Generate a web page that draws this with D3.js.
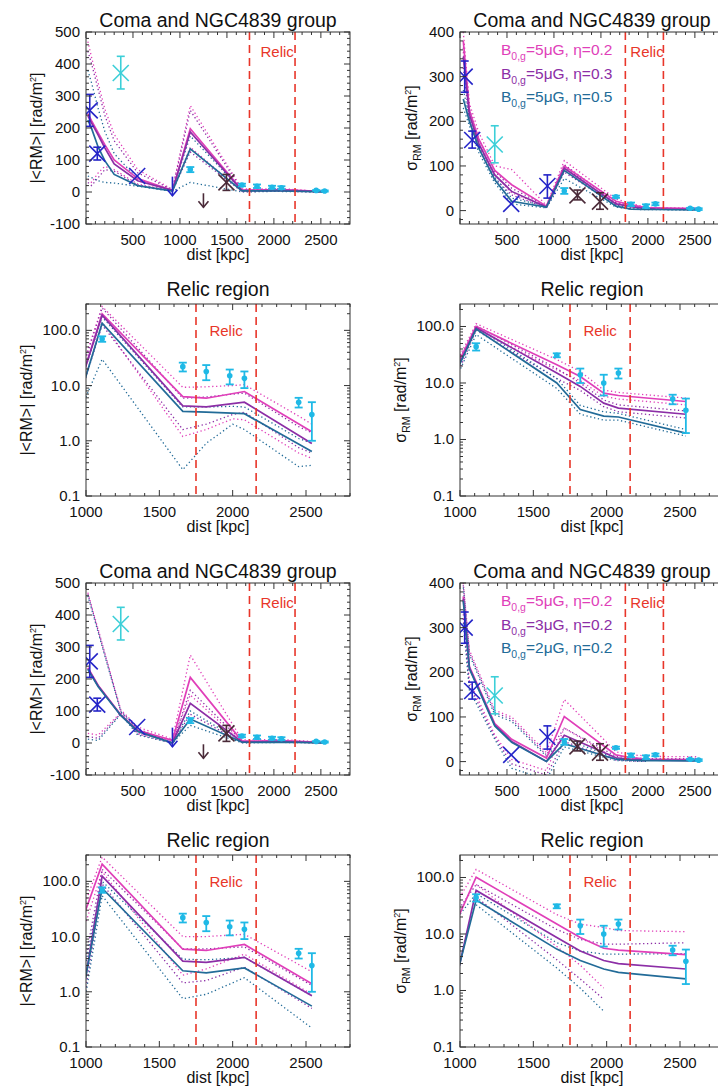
<!DOCTYPE html>
<html>
<head>
<meta charset="utf-8">
<script src="https://cdn.jsdelivr.net/npm/d3@7"></script>
<style>
  body { margin: 0; background: #fff; }
  svg { display: block; font-family: "Liberation Sans", Arial, Helvetica, sans-serif; }
</style>
</head>
<body>
<script>
// ---------- model curves: |<RM>|, eta series ----------
var rmEtaX    = [20, 60, 130, 200, 300, 550, 920, 1110, 1660, 1820, 2080, 2540];
var rmEta02   = [245, 222, 185, 148, 100, 42, 5, 198, 6.3, 5.9, 7.8, 1.46];
var rmEta03   = [238, 215, 178, 138, 88, 35, 5, 188, 4.3, 4.1, 5.0, 0.89];
var rmEta05   = [225, 198, 140, 98, 55, 20, 3, 135, 3.4, 3.3, 3.1, 0.64];
var rmEtaDotX = [20, 60, 130, 200, 300, 550, 920, 1110, 1660, 1820, 2000, 2080, 2450, 2540];
var rmEta02Hi = [470, 420, 340, 260, 180, 70, 8, 270, 9.3, 9.5, 10, 10.4, 2.8, 2.0];
var rmEta02Lo = [40, 30, 60, 80, 70, 25, 3, 140, 1.2, 1.6, 2.5, 2.4, 0.6, 0.48];
var rmEta03Hi = [440, 400, 320, 240, 160, 60, 7, 255, 5.9, 6.2, 7, 7.3, 1.8, 1.4];
var rmEta03Lo = [30, 20, 45, 70, 65, 22, 3, 125, 1.6, 2.0, 3.0, 3.3, 0.75, 0.6];
var rmEta05Hi = [380, 340, 260, 190, 120, 40, 5, 175, 4.1, 4.1, 4.2, 4.1, 1.1, 0.9];
var rmEta05Lo = [50, 45, 35, 30, 28, 18, 2, 30, 0.3, 0.9, 2.0, 1.6, 0.34, 0.36];

// ---------- model curves: sigma_RM, eta series ----------
var sgEtaX    = [35, 100, 200, 370, 550, 920, 1110, 1660, 1820, 1980, 2080, 2540];
var sgEta02   = [380, 225, 160, 90, 58, 10, 100, 21, 13, 6.6, 6.0, 4.7];
var sgEta03   = [345, 215, 150, 80, 43, 8, 95, 15, 8.7, 4.4, 3.6, 2.8];
var sgEta05   = [250, 200, 140, 69, 21, 8, 90, 10, 3.4, 2.6, 2.5, 1.3];
var sgEta02Hi = [400, 240, 175, 100, 92, 12, 112, 26, 16, 7.5, 6.8, 5.4];
var sgEta02Lo = [355, 205, 145, 80, 40, 8, 90, 17, 11, 5.8, 5.2, 4.1];
var sgEta03Hi = [365, 228, 160, 88, 50, 10, 103, 18, 10, 5.0, 4.1, 3.2];
var sgEta03Lo = [320, 200, 140, 72, 35, 6, 86, 12, 7.4, 3.8, 3.1, 2.4];
var sgEta05Hi = [270, 210, 150, 75, 28, 10, 98, 12, 4.0, 3.1, 2.9, 1.5];
var sgEta05Lo = [230, 190, 130, 62, 15, 6, 72, 8, 2.8, 2.2, 2.2, 1.15];

// ---------- model curves: |<RM>|, B0 series ----------
var rmBX   = [20, 130, 370, 550, 920, 1110, 1660, 1820, 2080, 2540];
var rmB5   = [235, 180, 88, 40, 8, 205, 5.9, 5.6, 7.2, 1.4];
var rmB3   = [232, 178, 87, 38, 0.1, 124, 3.6, 3.4, 4.2, 0.85];
var rmB2   = [230, 176, 86, 36, 0.14, 75, 2.4, 2.2, 2.7, 0.55];
var rmB5Hi = [470, 355, 104, 50, 12, 275, 10, 10, 11, 2.3];
var rmB5Lo = [30, 25, 95, 30, 4, 150, 2.0, 2.6, 4.8, 0.9];
var rmB3Hi = [465, 350, 100, 45, 0.3, 165, 6.0, 6.0, 6.5, 1.3];
var rmB3Lo = [20, 15, 92, 28, 0.05, 90, 1.45, 1.6, 2.8, 0.5];
var rmB2Hi = [460, 345, 98, 42, 0.3, 100, 3.9, 3.8, 4.2, 0.85];
var rmB2Lo = [12, 8, 90, 25, 0.05, 55, 0.75, 0.9, 1.8, 0.22];

// ---------- model curves: sigma_RM, B0 series ----------
var sgBX   = [35, 100, 370, 550, 920, 1110, 1660, 1820, 1980, 2080, 2540];
var sgB5   = [370, 213, 85, 50, 7.9, 101, 15, 8.7, 5.6, 5.2, 4.3];
var sgB3   = [365, 210, 82, 45, 0.36, 59, 8.7, 5.0, 3.4, 3.0, 2.4];
var sgB2   = [360, 208, 80, 43, 0.48, 40, 5.4, 3.4, 2.4, 2.1, 1.6];
var sgB5Hi = [400, 250, 115, 100, 20, 139, 22, 15, 13, 11.5, 11];
var sgB5Lo = [330, 180, 60, 5, -20, 75, 6, 2.8, 1.1, null, null];
var sgB3Hi = [395, 245, 110, 95, 15, 75, 12, 8, 6.6, 6.6, 7];
var sgB3Lo = [320, 170, 55, -5, -30, 45, 3.5, 1.6, 0.7, null, null];
var sgB2Hi = [390, 240, 105, 90, 12, 52, 7, 5, 4.4, 4.4, 4.5];
var sgB2Lo = [310, 160, 50, -15, -40, 33, 2.5, 1.1, 0.43, null, null];

// ---------- observations ----------
var dotX      = [1110, 1660, 1820, 1980, 2080, 2450, 2540];
var rmDot     = [70, 22, 18, 15, 13.5, 5, 3];
var rmDotErr  = [8, 4, 5.5, 4.5, 4.5, 1, 2];
var sgDot     = [44, 31, 14, 10, 15, 5.2, 3.3];
var sgDotErr  = [6.5, 2.5, 4, 4, 3, 1, 2];

var rmBlueX   = [40, 120, 545];
var rmBlueVal = [255, 120, 50];
var rmBlueLo  = [205, 100, null];
var rmBlueHi  = [305, 140, null];
var rmCyanX   = [370], rmCyanVal = [372], rmCyanLo = [322], rmCyanHi = [424];
var rmDarkX   = [1495], rmDarkVal = [30], rmDarkLo = [5], rmDarkHi = [55];
var rmLimitX  = [920, 1250];            // upper limits (arrows)
var rmLimitTop = [48, -4];
var rmLimitBot = [-12, -48];

var sgBlueX   = [50, 130, 545, 930];
var sgBlueVal = [300, 158, 15, 55];
var sgBlueLo  = [265, 140, null, 28];
var sgBlueHi  = [335, 178, null, 80];
var sgCyanX   = [370], sgCyanVal = [148], sgCyanLo = [107], sgCyanHi = [190];
var sgDarkX   = [1250, 1490], sgDarkVal = [34, 20], sgDarkLo = [24, 3], sgDarkHi = [46, 40];

// ---------- axes ----------
var xTicksFull  = [500, 1000, 1500, 2000, 2500];
var xTicksRelic = [1000, 1500, 2000, 2500];
var yTicksRm    = [-100, 0, 100, 200, 300, 400, 500];
var yTicksSg    = [0, 100, 200, 300, 400];
var yTicksLog   = [0.1, 1, 10, 100];
var legendEta   = ["=5\u03bcG, \u03b7=0.2", "=5\u03bcG, \u03b7=0.3", "=5\u03bcG, \u03b7=0.5"];
var legendB     = ["=5\u03bcG, \u03b7=0.2", "=3\u03bcG, \u03b7=0.2", "=2\u03bcG, \u03b7=0.2"];

// colours
var cMag = "#e03fb9", cPur = "#8c2ea6", cTeal = "#226b98";
var cBlue = "#2424c8", cCyanX = "#3ccfd8", cCyan = "#1fb9e6", cDark = "#4a2a38", cRed = "#e8362a";

var W = 718, H = 1091, PW = 264, PH = 192;
var colLeft = [86, 460];
var rowTop = [32, 304, 583, 855];

var svg = d3.select("body").append("svg").attr("width", W).attr("height", H);

function models(xs, xd, s, hi, lo) {
    var cols = [cMag, cPur, cTeal], out = [];
    for (var i = 0; i < 3; i++) {
        out.push({x: xd, y: hi[i], color: cols[i], dotted: true});
        out.push({x: xd, y: lo[i], color: cols[i], dotted: true});
    }
    for (var j = 0; j < 3; j++) out.push({x: xs, y: s[j], color: cols[j], dotted: false});
    return out;
}

var etaRm = models(rmEtaX, rmEtaDotX, [rmEta02, rmEta03, rmEta05], [rmEta02Hi, rmEta03Hi, rmEta05Hi], [rmEta02Lo, rmEta03Lo, rmEta05Lo]);
var etaSg = models(sgEtaX, sgEtaX, [sgEta02, sgEta03, sgEta05], [sgEta02Hi, sgEta03Hi, sgEta05Hi], [sgEta02Lo, sgEta03Lo, sgEta05Lo]);
var bRm = models(rmBX, rmBX, [rmB5, rmB3, rmB2], [rmB5Hi, rmB3Hi, rmB2Hi], [rmB5Lo, rmB3Lo, rmB2Lo]);
var bSg = models(sgBX, sgBX, [sgB5, sgB3, sgB2], [sgB5Hi, sgB3Hi, sgB2Hi], [sgB5Lo, sgB3Lo, sgB2Lo]);

var panels = [
  {id: 1, col: 0, row: 0, q: "rm", log: false, models: etaRm, relic: [1740, 2225]},
  {id: 2, col: 1, row: 0, q: "sg", log: false, models: etaSg, relic: [1760, 2165], legend: legendEta},
  {id: 3, col: 0, row: 1, q: "rm", log: true, models: etaRm, relic: [1750, 2160], yDomain: [0.1, 300]},
  {id: 4, col: 1, row: 1, q: "sg", log: true, models: etaSg, relic: [1750, 2160], yDomain: [0.1, 250]},
  {id: 5, col: 0, row: 2, q: "rm", log: false, models: bRm, relic: [1740, 2225]},
  {id: 6, col: 1, row: 2, q: "sg", log: false, models: bSg, relic: [1760, 2165], legend: legendB},
  {id: 7, col: 0, row: 3, q: "rm", log: true, models: bRm, relic: [1750, 2160], yDomain: [0.1, 300]},
  {id: 8, col: 1, row: 3, q: "sg", log: true, models: bSg, relic: [1750, 2160], yDomain: [0.1, 250]}
];

panels.forEach(drawPanel);

function drawPanel(p) {
    var x0 = colLeft[p.col], y0 = rowTop[p.row];
    var g = svg.append("g").attr("transform", "translate(" + x0 + "," + y0 + ")");
    var xDom = p.log ? [1000, 2800] : [0, 2810];
    var yDom = p.log ? p.yDomain : (p.q == "rm" ? [-100, 500] : [-30, 400]);
    var x = d3.scaleLinear().domain(xDom).range([0, PW]);
    var y = (p.log ? d3.scaleLog() : d3.scaleLinear()).domain(yDom).range([PH, 0]);

    g.append("clipPath").attr("id", "clip" + p.id)
        .append("rect").attr("width", PW).attr("height", PH);
    var plot = g.append("g").attr("clip-path", "url(#clip" + p.id + ")");

    var line = d3.line()
        .defined(d => d[1] != null && (!p.log || d[1] > 0))
        .x(d => x(d[0])).y(d => y(d[1]));

    p.models.forEach(function(m) {
        plot.append("path")
            .datum(d3.zip(m.x, m.y))
            .attr("d", line)
            .attr("fill", "none")
            .attr("stroke", m.color)
            .attr("stroke-width", m.dotted ? 1.3 : 1.7)
            .attr("stroke-dasharray", m.dotted ? "1.3,2.6" : null);
    });

    // relic boundaries
    p.relic.forEach(function(r) {
        plot.append("line").attr("x1", x(r)).attr("x2", x(r)).attr("y1", 0).attr("y2", PH)
            .attr("stroke", cRed).attr("stroke-width", 1.6).attr("stroke-dasharray", "8,5");
    });
    var relicY = p.log ? 32 : 25;
    var relicX = p.log ? (x(p.relic[0]) + x(p.relic[1])) / 2 : x(p.relic[0]) + (p.col == 0 ? 11 : 5);
    g.append("text").attr("x", relicX).attr("y", relicY)
        .attr("text-anchor", p.log ? "middle" : "start")
        .attr("font-size", 15).attr("fill", cRed).text("Relic");

    // observations
    var dv = p.q == "rm" ? rmDot : sgDot, de = p.q == "rm" ? rmDotErr : sgDotErr;
    if (!p.log) {
        if (p.q == "rm") {
            crosses(plot, x, y, rmBlueX, rmBlueVal, rmBlueLo, rmBlueHi, cBlue, 8);
            crosses(plot, x, y, rmCyanX, rmCyanVal, rmCyanLo, rmCyanHi, cCyanX, 8);
            crosses(plot, x, y, rmDarkX, rmDarkVal, rmDarkLo, rmDarkHi, cDark, 8);
            rmLimitX.forEach(function(lx, i) {
                arrow(plot, x(lx), y(rmLimitTop[i]), y(rmLimitBot[i]), i == 0 ? cBlue : cDark);
            });
        } else {
            crosses(plot, x, y, sgBlueX, sgBlueVal, sgBlueLo, sgBlueHi, cBlue, 8);
            crosses(plot, x, y, sgCyanX, sgCyanVal, sgCyanLo, sgCyanHi, cCyanX, 8);
            crosses(plot, x, y, sgDarkX, sgDarkVal, sgDarkLo, sgDarkHi, cDark, 8);
        }
    }
    dotX.forEach(function(dx, i) {
        var lo = Math.max(dv[i] - de[i], p.log ? 0.11 : -1000), hi = dv[i] + de[i];
        var cx = x(dx);
        plot.append("line").attr("x1", cx).attr("x2", cx).attr("y1", y(lo)).attr("y2", y(hi))
            .attr("stroke", cCyan).attr("stroke-width", 1.8);
        [lo, hi].forEach(function(v) {
            plot.append("line").attr("x1", cx - 4).attr("x2", cx + 4).attr("y1", y(v)).attr("y2", y(v))
                .attr("stroke", cCyan).attr("stroke-width", 1.8);
        });
        plot.append("circle").attr("cx", cx).attr("cy", y(dv[i])).attr("r", 2.8).attr("fill", cCyan);
    });

    // frame
    g.append("rect").attr("width", PW).attr("height", PH)
        .attr("fill", "none").attr("stroke", "#333").attr("stroke-width", 1);

    // ticks, IDL style: inward on all four sides
    var tk = g.append("g").attr("stroke", "#333").attr("stroke-width", 1);
    var xMinor = d3.range(Math.ceil(xDom[0] / 100) * 100, xDom[1] + 1, 100);
    xMinor.forEach(function(v) {
        var len = v % 500 == 0 ? 6 : 3, px = x(v);
        tk.append("line").attr("x1", px).attr("x2", px).attr("y1", PH).attr("y2", PH - len);
        tk.append("line").attr("x1", px).attr("x2", px).attr("y1", 0).attr("y2", len);
    });
    var yMinor = [];
    if (p.log) {
        [0.1, 1, 10, 100].forEach(function(d) {
            for (var k = 1; k <= 9; k++) if (d * k <= yDom[1]) yMinor.push({v: d * k, major: k == 1});
        });
    } else {
        d3.range(Math.ceil(yDom[0] / 20) * 20, yDom[1] + 1, 20).forEach(function(v) {
            yMinor.push({v: v, major: v % 100 == 0});
        });
    }
    yMinor.forEach(function(t) {
        var len = t.major ? 6 : 3, py = y(t.v);
        tk.append("line").attr("x1", 0).attr("x2", len).attr("y1", py).attr("y2", py);
        tk.append("line").attr("x1", PW).attr("x2", PW - len).attr("y1", py).attr("y2", py);
    });

    // tick labels
    (p.log ? xTicksRelic : xTicksFull).forEach(function(v) {
        g.append("text").attr("x", x(v)).attr("y", PH + 21).attr("text-anchor", "middle")
            .attr("font-size", 15).attr("fill", "#111").text(v);
    });
    var yt = p.log ? yTicksLog : (p.q == "rm" ? yTicksRm : yTicksSg);
    yt.forEach(function(v) {
        g.append("text").attr("x", -6).attr("y", y(v) + 5).attr("text-anchor", "end")
            .attr("font-size", 15).attr("fill", "#111")
            .text(p.log ? d3.format(".1f")(v) : v);
    });

    // axis titles
    g.append("text").attr("x", PW / 2).attr("y", PH + 36).attr("text-anchor", "middle")
        .attr("font-size", 16).attr("fill", "#111").text("dist [kpc]");
    g.append("text").attr("x", PW / 2).attr("y", p.log ? -8 : -5).attr("text-anchor", "middle")
        .attr("font-size", 19.5).attr("fill", "#111")
        .text(p.log ? "Relic region" : "Coma and NGC4839 group");

    var yl = p.log ? -54 : (p.q == "rm" ? -44 : -43);
    var yLab = g.append("text").attr("transform", "translate(" + yl + "," + (PH / 2) + ") rotate(-90)")
        .attr("text-anchor", "middle").attr("font-size", 16).attr("fill", "#111");
    if (p.q == "rm") {
        yLab.append("tspan").text("|<RM>| [rad/m");
    } else {
        yLab.append("tspan").text("\u03c3");
        yLab.append("tspan").attr("font-size", 10.5).attr("dy", 4).text("RM");
        yLab.append("tspan").attr("dy", -4).text(" [rad/m");
    }
    yLab.append("tspan").attr("font-size", 9).attr("dy", -6).text("2");
    yLab.append("tspan").attr("dy", 6).text("]");

    // legend
    if (p.legend) {
        var lc = [cMag, cPur, cTeal];
        p.legend.forEach(function(s, i) {
            var t = g.append("text").attr("x", 41).attr("y", 23 + i * 23.5)
                .attr("font-size", 15.5).attr("fill", lc[i]);
            t.append("tspan").text("B");
            t.append("tspan").attr("font-size", 10.5).attr("dy", 5).text("0,g");
            t.append("tspan").attr("dy", -5).text(s);
        });
    }
}

function crosses(sel, x, y, xs, vals, los, his, color, s) {
    xs.forEach(function(vx, i) {
        var cx = x(vx), cy = y(vals[i]);
        var gg = sel.append("g").attr("stroke", color).attr("stroke-width", 1.6).attr("fill", "none");
        gg.append("line").attr("x1", cx - s).attr("x2", cx + s).attr("y1", cy - s).attr("y2", cy + s);
        gg.append("line").attr("x1", cx - s).attr("x2", cx + s).attr("y1", cy + s).attr("y2", cy - s);
        if (los[i] != null) {
            gg.append("line").attr("x1", cx).attr("x2", cx).attr("y1", y(los[i])).attr("y2", y(his[i]));
            [los[i], his[i]].forEach(function(v) {
                gg.append("line").attr("x1", cx - 4).attr("x2", cx + 4).attr("y1", y(v)).attr("y2", y(v));
            });
        }
    });
}

function arrow(sel, cx, yTop, yBot, color) {
    var gg = sel.append("g").attr("stroke", color).attr("stroke-width", 1.6).attr("fill", "none");
    gg.append("line").attr("x1", cx).attr("x2", cx).attr("y1", yTop).attr("y2", yBot);
    gg.append("polyline").attr("points", [[cx - 5, yBot - 6], [cx, yBot], [cx + 5, yBot - 6]].join(" "));
}
</script>
</body>
</html>
